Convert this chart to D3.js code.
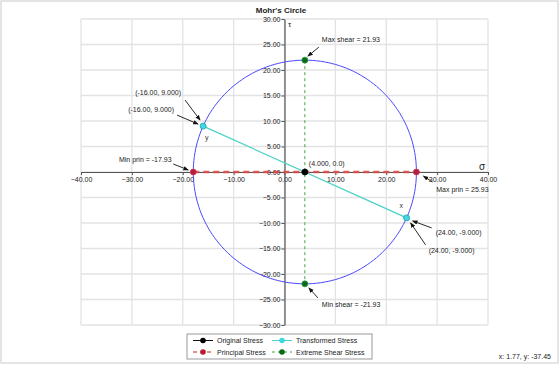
<!DOCTYPE html>
<html><head><meta charset="utf-8">
<script src="https://cdn.jsdelivr.net/npm/d3@7"></script>
<style>
body{margin:0;background:#fff;}
svg{display:block;font-family:Arial,"Liberation Sans",sans-serif;}
</style></head>
<body><svg id="c" width="560" height="365"></svg>
<script>
// ---- data ----
const chartTitle = "Mohr's Circle";
const xTicks = [-40, -30, -20, -10, 0, 10, 20, 30, 40];
const yTicks = [-30, -25, -20, -15, -10, -5, 0, 5, 10, 15, 20, 25, 30];
const circleCenter = [4, 0];
const circleRadius = 21.93;
const originalStress = [[4, 0]];
const principalStress = [[-17.93, 0], [25.93, 0]];
const transformedStress = [[-16, 9], [24, -9]];
const shearStress = [[4, 21.93], [4, -21.93]];
const annotationTexts = ["Max shear = 21.93", "Min shear = -21.93", "(-16.00, 9.000)", "(-16.00, 9.000)",
  "(24.00, -9.000)", "(24.00, -9.000)", "Min prin = -17.93", "Max prin = 25.93", "(4.000, 0.0)"];
const annotationPoints = [[4, 21.93], [4, -21.93], [-16, 9], [-16, 9], [24, -9], [24, -9], [-17.93, 0], [25.93, 0], [4, 0]];
const legendLabels = ["Original Stress", "Transformed Stress", "Principal Stress", "Extreme Shear Stress"];
const cursorText = "x: 1.77, y: -37.45";

// ---- layout ----
const svg = d3.select("#c");
const x = d3.scaleLinear().domain([-40, 40]).range([81, 488]);
const y = d3.scaleLinear().domain([-30, 30]).range([325, 19]);
const fmt = d3.format(".2f");

svg.append("rect").attr("x", 1).attr("y", 1).attr("width", 557).attr("height", 362)
  .attr("fill", "#fff").attr("stroke", "#dcdcdc").attr("stroke-width", 1.5);

svg.append("text").attr("x", 281).attr("y", 13).attr("text-anchor", "middle")
  .attr("font-size", 8).attr("font-weight", "bold").attr("fill", "#222").text(chartTitle);

// grid
const grid = svg.append("g").attr("stroke", "#e3e3e3").attr("stroke-width", 1.3);
xTicks.forEach(t => grid.append("line").attr("x1", x(t)).attr("x2", x(t)).attr("y1", y(30)).attr("y2", y(-30)));
yTicks.forEach(t => grid.append("line").attr("x1", x(-40)).attr("x2", x(40)).attr("y1", y(t)).attr("y2", y(t)));

// axes
const xAxis = svg.append("g").attr("transform", `translate(0,${y(0)})`)
  .call(d3.axisBottom(x).tickValues(xTicks).tickFormat(fmt).tickSize(3).tickSizeOuter(0));
const yAxis = svg.append("g").attr("transform", `translate(${x(0)},0)`)
  .call(d3.axisLeft(y).tickValues(yTicks).tickFormat(fmt).tickSize(3).tickSizeOuter(0));
[xAxis, yAxis].forEach(a => {
  a.select(".domain").attr("stroke", "#555").attr("stroke-width", 1.2);
  a.selectAll(".tick line").attr("stroke", "#555");
  a.selectAll(".tick text").attr("font-size", 7).attr("fill", "#222").attr("font-family", "Arial, 'Liberation Sans', sans-serif");
});
xAxis.selectAll(".tick text").attr("dy", "0.71em").attr("y", 5);
yAxis.selectAll(".tick text").attr("x", -4);

svg.append("text").attr("x", 288).attr("y", 27).attr("font-size", 8).attr("fill", "#222").text("τ");
svg.append("text").attr("x", 479).attr("y", 170).attr("font-size", 10).attr("fill", "#222").text("σ");

// circle
const angles = d3.range(0, 361, 2).map(d => d * Math.PI / 180);
svg.append("path")
  .datum(angles.map(a => [circleCenter[0] + circleRadius * Math.cos(a), circleCenter[1] + circleRadius * Math.sin(a)]))
  .attr("d", d3.line().x(d => x(d[0])).y(d => y(d[1])))
  .attr("fill", "none").attr("stroke", "#4a4aff").attr("stroke-width", 1);

const line = d3.line().x(d => x(d[0])).y(d => y(d[1]));
svg.append("path").datum(shearStress).attr("d", line).attr("stroke", "#3fa83f").attr("stroke-width", 1)
  .attr("stroke-dasharray", "3,3").attr("fill", "none");
svg.append("path").datum(transformedStress).attr("d", line).attr("stroke", "#48d1c4").attr("stroke-width", 1.2).attr("fill", "none");
svg.append("path").datum(principalStress).attr("d", line).attr("stroke", "#dd4a4a").attr("stroke-width", 2.6)
  .attr("stroke-dasharray", "6,4").attr("fill", "none").attr("opacity", 0.9);

function pts(data, fill, stroke) {
  svg.append("g").selectAll("circle").data(data).join("circle")
    .attr("cx", d => x(d[0])).attr("cy", d => y(d[1])).attr("r", 3)
    .attr("fill", fill).attr("stroke", stroke).attr("stroke-width", 0.8);
}
pts(principalStress, "#b01e40", "#d04050");
pts(transformedStress, "#40d8e0", "#20a0b0");
pts(shearStress, "#0a6a1a", "#2a9a3a");
pts(originalStress, "#000", "#000");

// point letters
svg.append("text").attr("x", x(-16) + 2).attr("y", y(9) + 14).attr("font-size", 7).attr("fill", "#333").text("y");
svg.append("text").attr("x", x(24) - 7).attr("y", y(-9) - 10).attr("font-size", 7).attr("fill", "#333").text("x");

// annotations: [textDx, textDy(baseline), anchor, tailDx, tailDy, tipDx, tipDy] relative to point pixel
const annLayout = [
  [17, -18, "start", 14, -13, 3, -4],
  [17, 23, "start", 13, 14, 4, 4],
  [-45, -31, "middle", -18, -26, -3, -6],
  [-52, -14, "middle", -26, -11, -5, -2],
  [52, 17, "middle", 25, 10, 6, 3],
  [45, 35, "middle", 19, 27, 4, 5],
  [-48, -10, "middle", -20, -8, -5, -2],
  [46, 20, "middle", 16, 10, 7, 4],
  [4, -6, "start", null, null, null, null]
];
const defs = svg.append("defs");
defs.append("marker").attr("id", "ah").attr("viewBox", "0 0 10 10").attr("refX", 9).attr("refY", 5)
  .attr("markerWidth", 6).attr("markerHeight", 6).attr("orient", "auto")
  .append("path").attr("d", "M0,1 L10,5 L0,9 Z").attr("fill", "#111");
annotationTexts.forEach((t, i) => {
  const p = annotationPoints[i], L = annLayout[i];
  const px = x(p[0]), py = y(p[1]);
  svg.append("text").attr("x", px + L[0]).attr("y", py + L[1]).attr("text-anchor", L[2])
    .attr("font-size", 7).attr("fill", "#222").text(t);
  if (L[3] !== null) {
    svg.append("line").attr("x1", px + L[3]).attr("y1", py + L[4]).attr("x2", px + L[5]).attr("y2", py + L[6])
      .attr("stroke", "#111").attr("stroke-width", 0.9).attr("marker-end", "url(#ah)");
  }
});

// legend
const lg = svg.append("g");
lg.append("rect").attr("x", 187).attr("y", 334).attr("width", 185).attr("height", 25)
  .attr("fill", "#fff").attr("stroke", "#999").attr("stroke-width", 1);
const legendStyles = [
  {col: 0, row: 0, stroke: "#111", dash: null, fill: "#000"},
  {col: 1, row: 0, stroke: "#48d1c4", dash: null, fill: "#40d8e0"},
  {col: 0, row: 1, stroke: "#cc2222", dash: "4,3", fill: "#b81e2e"},
  {col: 1, row: 1, stroke: "#3fa83f", dash: "3,3", fill: "#0a6a1a"}
];
legendLabels.forEach((lab, i) => {
  const s = legendStyles[i];
  const lx = s.col ? 272 : 193, ly = s.row ? 352 : 340.5;
  lg.append("line").attr("x1", lx).attr("x2", lx + 20).attr("y1", ly).attr("y2", ly)
    .attr("stroke", s.stroke).attr("stroke-width", 1).attr("stroke-dasharray", s.dash);
  lg.append("circle").attr("cx", lx + 10).attr("cy", ly).attr("r", 2.8).attr("fill", s.fill);
  lg.append("text").attr("x", lx + 24).attr("y", ly + 2.5).attr("font-size", 7).attr("fill", "#222").text(lab);
});

svg.append("text").attr("x", 551).attr("y", 359).attr("text-anchor", "end").attr("font-size", 7).attr("fill", "#222").text(cursorText);
</script></body></html>
